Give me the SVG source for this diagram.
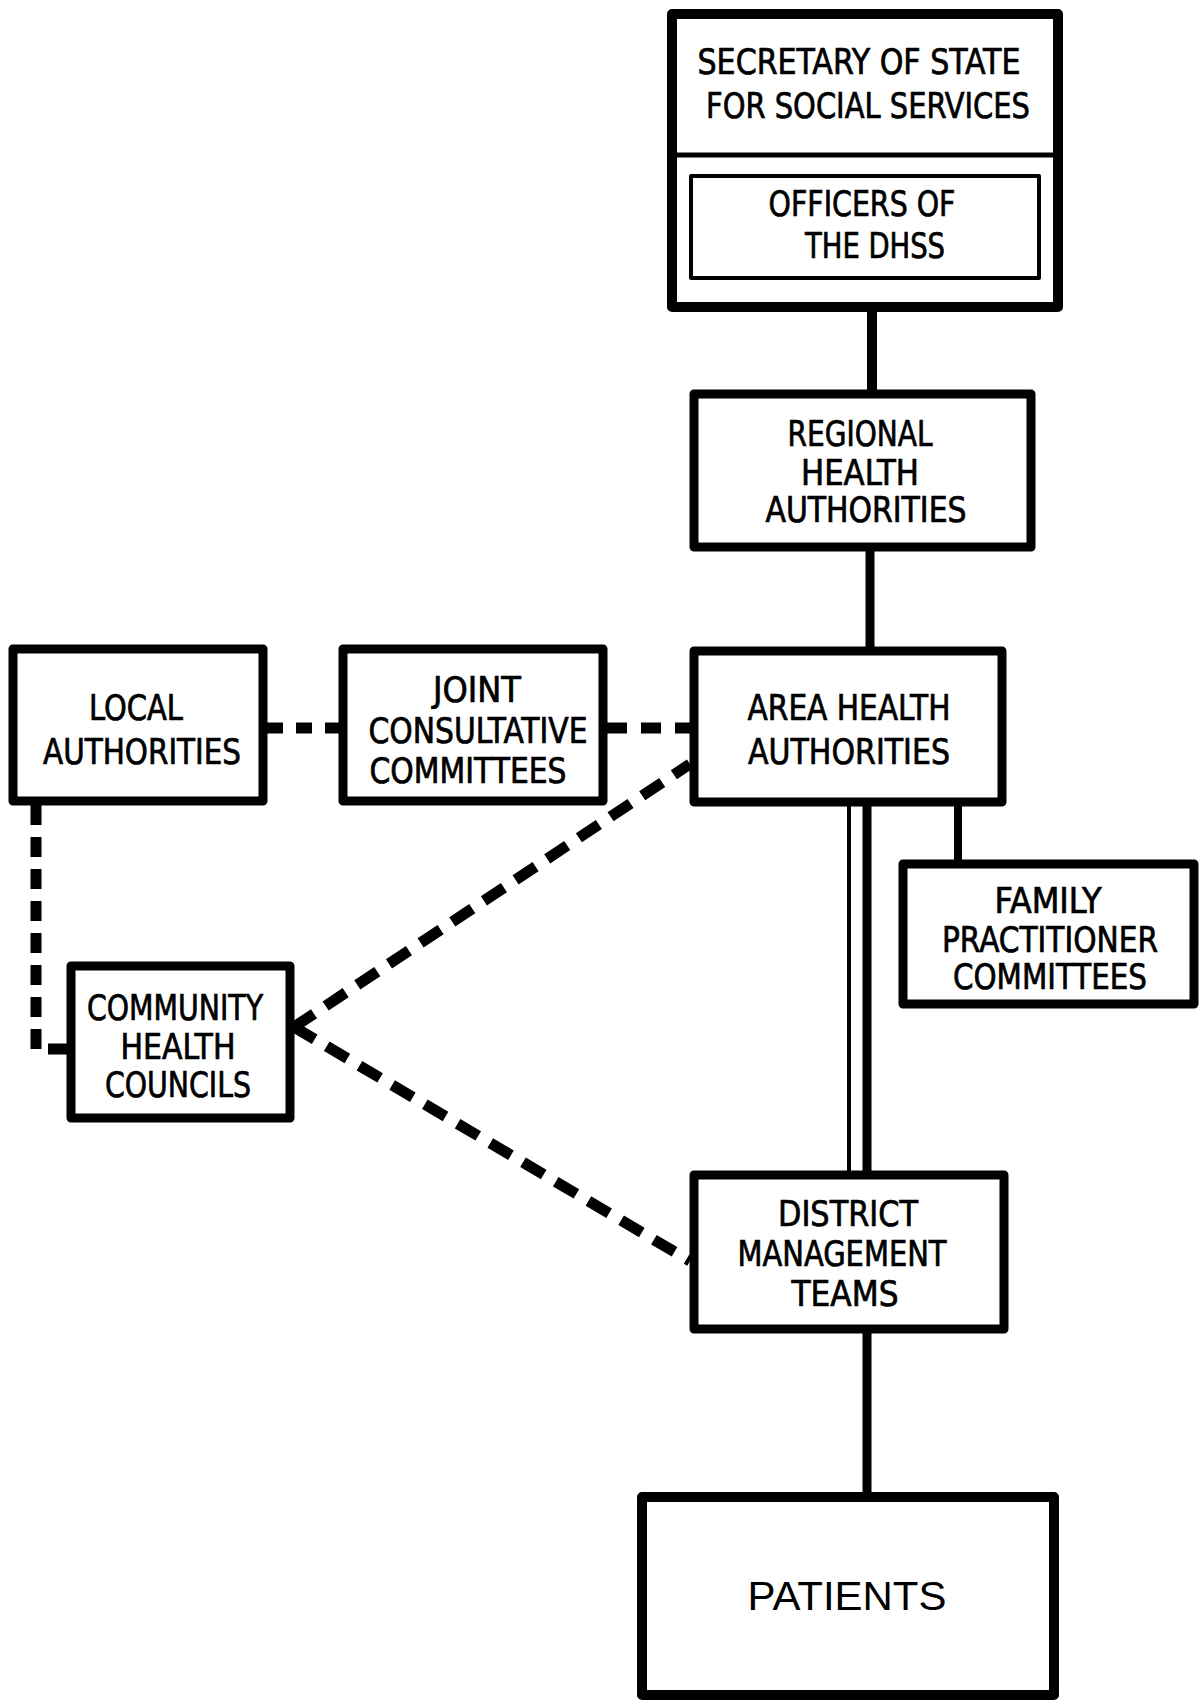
<svg xmlns="http://www.w3.org/2000/svg" width="1200" height="1700" viewBox="0 0 1200 1700">
<style>
.box{fill:#fff;stroke:#000;stroke-width:9;stroke-linejoin:round}
.t{font-family:"Liberation Sans Narrow","DejaVu Sans Condensed","Liberation Sans",sans-serif;font-size:35px;fill:#000;stroke:#000;stroke-width:0.7;text-anchor:middle}
.p{font-family:"Liberation Sans","DejaVu Sans",sans-serif;font-size:40px;fill:#000;text-anchor:middle}
.solid{stroke:#000;stroke-width:9;fill:none}
.dash{stroke:#000;stroke-width:11;fill:none;stroke-dasharray:20 12}
.ddash{stroke:#000;stroke-width:11;fill:none;stroke-dasharray:24 14}
</style>
<rect width="1200" height="1700" fill="#fff"/>
<g id="connectors">
<line class="solid" x1="872" y1="311" x2="872" y2="392" style="stroke-width:10"/>
<line class="solid" x1="870" y1="551" x2="870" y2="649"/>
<line class="solid" x1="958" y1="806" x2="958" y2="862" style="stroke-width:8"/>
<line class="solid" x1="849" y1="806" x2="849" y2="1173" style="stroke-width:4"/>
<line class="solid" x1="867" y1="806" x2="867" y2="1173"/>
<line class="solid" x1="867" y1="1333" x2="867" y2="1495"/>
<line class="dash" x1="267" y1="728" x2="339" y2="728" style="stroke-dasharray:16 13"/>
<line class="dash" x1="607" y1="728" x2="690" y2="728" style="stroke-dasharray:20 14"/>
<polyline class="dash" points="36,805 36,1049 67,1049"/>
<line class="ddash" x1="294" y1="1027" x2="690" y2="764"/>
<line class="ddash" x1="294" y1="1027" x2="690" y2="1261"/>
</g>
<g id="secretary">
<rect class="box" x="672" y="14" width="386" height="293" style="stroke-width:10"/>
<line x1="672" y1="155" x2="1058" y2="155" stroke="#000" stroke-width="5"/>
<text class="t" x="859" y="74" textLength="323" lengthAdjust="spacingAndGlyphs">SECRETARY OF STATE</text>
<text class="t" x="868" y="118" textLength="324" lengthAdjust="spacingAndGlyphs">FOR SOCIAL SERVICES</text>
</g>
<g id="officers">
<rect class="box" x="691" y="176" width="348" height="102" style="stroke-width:4"/>
<text class="t" x="862" y="216" textLength="187" lengthAdjust="spacingAndGlyphs">OFFICERS OF</text>
<text class="t" x="875" y="258" textLength="140" lengthAdjust="spacingAndGlyphs">THE DHSS</text>
</g>
<g id="regional">
<rect class="box" x="694" y="394" width="337" height="153"/>
<text class="t" x="860" y="446" textLength="145" lengthAdjust="spacingAndGlyphs">REGIONAL</text>
<text class="t" x="860" y="485" textLength="118" lengthAdjust="spacingAndGlyphs">HEALTH</text>
<text class="t" x="866" y="522" textLength="201" lengthAdjust="spacingAndGlyphs">AUTHORITIES</text>
</g>
<g id="area">
<rect class="box" x="694" y="651" width="308" height="151"/>
<text class="t" x="849" y="720" textLength="203" lengthAdjust="spacingAndGlyphs">AREA HEALTH</text>
<text class="t" x="849" y="764" textLength="202" lengthAdjust="spacingAndGlyphs">AUTHORITIES</text>
</g>
<g id="local">
<rect class="box" x="13" y="649" width="250" height="152"/>
<text class="t" x="136" y="720" textLength="94" lengthAdjust="spacingAndGlyphs">LOCAL</text>
<text class="t" x="142" y="764" textLength="198" lengthAdjust="spacingAndGlyphs">AUTHORITIES</text>
</g>
<g id="joint">
<rect class="box" x="343" y="649" width="260" height="152"/>
<text class="t" x="477" y="702" textLength="88" lengthAdjust="spacingAndGlyphs">JOINT</text>
<text class="t" x="478" y="743" textLength="219" lengthAdjust="spacingAndGlyphs">CONSULTATIVE</text>
<text class="t" x="468" y="783" textLength="197" lengthAdjust="spacingAndGlyphs">COMMITTEES</text>
</g>
<g id="family">
<rect class="box" x="903" y="864" width="291" height="140"/>
<text class="t" x="1048" y="913" textLength="107" lengthAdjust="spacingAndGlyphs">FAMILY</text>
<text class="t" x="1050" y="952" textLength="216" lengthAdjust="spacingAndGlyphs">PRACTITIONER</text>
<text class="t" x="1050" y="989" textLength="194" lengthAdjust="spacingAndGlyphs">COMMITTEES</text>
</g>
<g id="community">
<rect class="box" x="71" y="966" width="219" height="152"/>
<text class="t" x="175" y="1020" textLength="176" lengthAdjust="spacingAndGlyphs">COMMUNITY</text>
<text class="t" x="178" y="1059" textLength="115" lengthAdjust="spacingAndGlyphs">HEALTH</text>
<text class="t" x="178" y="1097" textLength="146" lengthAdjust="spacingAndGlyphs">COUNCILS</text>
</g>
<g id="district">
<rect class="box" x="694" y="1175" width="310" height="154"/>
<text class="t" x="848" y="1226" textLength="140" lengthAdjust="spacingAndGlyphs">DISTRICT</text>
<text class="t" x="842" y="1266" textLength="209" lengthAdjust="spacingAndGlyphs">MANAGEMENT</text>
<text class="t" x="845" y="1306" textLength="107" lengthAdjust="spacingAndGlyphs">TEAMS</text>
</g>
<g id="patients">
<rect class="box" x="642" y="1497" width="412" height="198" style="stroke-width:10"/>
<text class="p" x="847" y="1610" textLength="199" lengthAdjust="spacingAndGlyphs">PATIENTS</text>
</g>
</svg>
